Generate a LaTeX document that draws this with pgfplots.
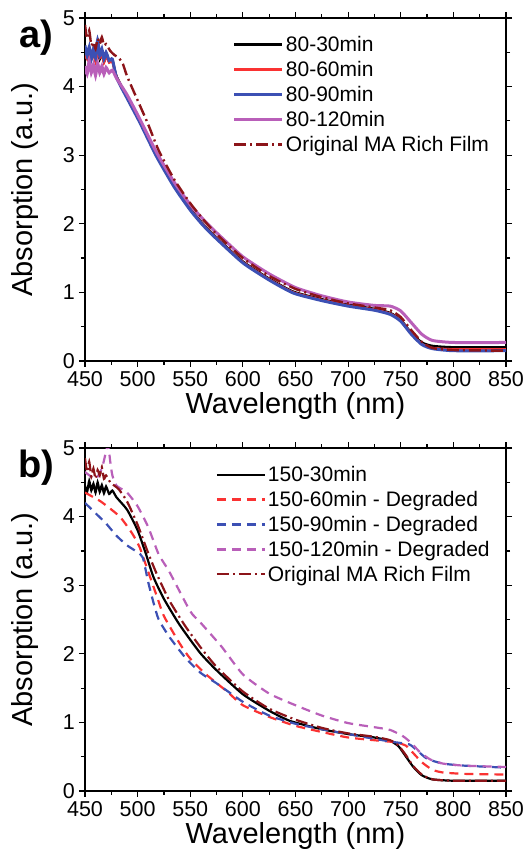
\documentclass[border=0pt]{standalone}
\usepackage{pgfplots}
\pgfplotsset{compat=1.18}
\usepackage{fontspec}
\setmainfont{Liberation Sans}
\definecolor{cred}{RGB}{250,50,50}
\definecolor{cblue}{RGB}{60,80,180}
\definecolor{cviol}{RGB}{185,95,185}
\definecolor{cdred}{RGB}{140,20,25}
\pgfplotsset{
  myax/.style={
    scale only axis, width=421pt, height=343pt,
    xmin=450, xmax=850, ymin=0, ymax=5,
    xtick={450,500,...,850}, ytick={0,1,...,5},
    minor x tick num=1, minor y tick num=1,
    tick align=outside, axis line style={line width=1.6pt},
    major tick length=6pt, minor tick length=4pt,
    every tick/.style={black, line width=1.2pt},
    /pgf/number format/assume math mode=true,
    ticklabel style={font=\fontsize{21.5}{23}\selectfont, inner sep=0pt},
    xticklabel style={yshift=-4.5pt},
    yticklabel style={xshift=-4pt},
    label style={font=\fontsize{29}{32}\selectfont},
    xlabel={Wavelength (nm)}, ylabel={Absorption (a.u.)},
    xlabel style={at={(axis description cs:0.5,-0.132)}, anchor=center, inner sep=0pt},
    ylabel style={at={(axis description cs:-0.143,0.5)}, anchor=center},
    legend style={draw=none, fill=none, font=\fontsize{21}{23}\selectfont,
      row sep=4.2pt, inner sep=0pt},
    legend cell align=left,
    legend image code/.code={\draw[##1] (0pt,0pt) -- (48pt,0pt);},
    every axis plot/.append style={smooth, tension=0.35},
    clip=true,
  }
}
\begin{document}
\begin{tikzpicture}
\useasboundingbox (0,0) rectangle (529pt,860pt);
% ---------------- panel a
\begin{axis}[myax, at={(85pt,499pt)}, anchor=south west,
  legend style={at={(axis description cs:0.351,0.953)}, anchor=north west}]
\addplot[black, line width=2.4pt] coordinates {
(450,4.5)(452,4.42)(454,4.56)(456,4.4)(458,4.52)(460,4.38)(462,4.54)(464,4.4)(466,4.5)(468,4.36)(470,4.46)(473,4.36)(476,4.38)
(480,4.15)(490,3.85)(502,3.5)(518,3.0)(535,2.55)(550,2.22)(562,2.0)(575,1.8)(600,1.45)(625,1.2)(648,1.01)(675,0.9)(700,0.82)(725,0.76)(740,0.7)(750,0.6)(760,0.41)(770,0.27)(780,0.22)(800,0.2)(850,0.2)};
\addlegendentry{80-30min}
\addplot[cred, line width=2.4pt] coordinates {
(450,4.48)(452,4.4)(454,4.55)(456,4.42)(458,4.5)(460,4.36)(462,4.52)(464,4.42)(466,4.48)(468,4.35)(470,4.45)(473,4.35)(476,4.36)
(480,4.14)(490,3.84)(502,3.49)(518,2.99)(535,2.54)(550,2.21)(562,1.99)(575,1.79)(600,1.44)(625,1.19)(648,1.0)(675,0.89)(700,0.81)(725,0.75)(740,0.69)(750,0.59)(760,0.4)(770,0.25)(780,0.19)(800,0.17)(850,0.17)};
\addlegendentry{80-60min}
\addplot[cblue, line width=3pt] coordinates {
(450,4.6)(452,4.45)(454,4.58)(456,4.4)(458,4.55)(460,4.42)(462,4.68)(464,4.45)(466,4.55)(468,4.4)(470,4.5)(473,4.38)(476,4.4)
(480,4.13)(490,3.83)(502,3.48)(518,2.98)(535,2.53)(550,2.2)(562,1.98)(575,1.78)(600,1.43)(625,1.18)(648,0.99)(675,0.88)(700,0.8)(725,0.74)(740,0.68)(750,0.58)(760,0.39)(770,0.24)(780,0.18)(800,0.15)(850,0.15)};
\addlegendentry{80-90min}
\addplot[cviol, line width=3pt] coordinates {
(450,4.3)(452,4.18)(454,4.38)(456,4.2)(458,4.32)(460,4.16)(462,4.34)(464,4.2)(466,4.3)(468,4.18)(470,4.28)(473,4.2)(476,4.24)
(480,4.12)(490,3.88)(502,3.53)(518,3.04)(535,2.6)(550,2.28)(562,2.07)(575,1.87)(600,1.52)(625,1.27)(650,1.07)(675,0.95)(700,0.86)(725,0.81)(740,0.8)(750,0.73)(760,0.56)(770,0.39)(780,0.3)(800,0.27)(850,0.27)};
\addlegendentry{80-120min}
\addplot[cdred, line width=2.4pt, dash pattern=on 12pt off 4pt on 2pt off 4pt] coordinates {
(450,4.9)(452,4.7)(454,4.82)(456,4.6)(458,4.65)(460,4.55)(462,4.7)(464,4.62)(466,4.72)(468,4.6)(470,4.62)(474,4.52)(478,4.46)
(482,4.42)(486,4.33)(490,4.15)(500,3.8)(510,3.45)(520,3.07)(535,2.64)(550,2.3)(562,2.07)(575,1.85)(600,1.5)(625,1.24)(650,1.05)(675,0.93)(700,0.84)(725,0.78)(740,0.74)(750,0.64)(760,0.45)(770,0.28)(780,0.19)(800,0.16)(850,0.15)};
\addlegendentry{Original MA Rich Film}
\end{axis}
\node[font=\bfseries\fontsize{38}{40}\selectfont, anchor=center] at (36pt,822pt) {a)};
% ---------------- panel b
\begin{axis}[myax, at={(85pt,69pt)}, anchor=south west,
  legend style={at={(axis description cs:0.31,0.953)}, anchor=north west}]
\addplot[black, line width=2.2pt] coordinates {
(450,4.45)(452,4.36)(454,4.52)(456,4.38)(458,4.48)(460,4.35)(462,4.5)(464,4.36)(466,4.46)(468,4.34)(470,4.44)(473,4.33)(476,4.38)
(480,4.28)(490,4.1)(500,3.8)(508,3.45)(515,3.12)(525,2.8)(540,2.42)(559,2.02)(575,1.76)(600,1.41)(625,1.17)(645,1.02)(675,0.9)(700,0.83)(725,0.78)(740,0.73)(748,0.65)(755,0.5)(762,0.35)(770,0.23)(780,0.17)(800,0.15)(850,0.15)};
\addlegendentry{150-30min}
\addplot[cred, line width=2.2pt, dash pattern=on 9pt off 6pt] coordinates {
(450,4.35)(465,4.22)(483,4.0)(495,3.75)(502,3.55)(510,3.2)(518,2.85)(525,2.55)(540,2.15)(550,1.93)(565,1.7)(585,1.45)(600,1.25)(625,1.08)(650,0.95)(675,0.86)(700,0.78)(725,0.74)(745,0.71)(755,0.66)(762,0.55)(770,0.42)(780,0.31)(790,0.27)(810,0.25)(850,0.24)};
\addlegendentry{150-60min - Degraded}
\addplot[cblue, line width=2.2pt, dash pattern=on 9pt off 6pt] coordinates {
(450,4.2)(460,4.05)(470,3.9)(480,3.72)(490,3.58)(500,3.48)(505,3.4)(510,3.05)(515,2.75)(520,2.5)(530,2.25)(545,1.95)(560,1.72)(575,1.57)(600,1.3)(625,1.1)(650,0.98)(675,0.9)(700,0.83)(725,0.76)(745,0.71)(758,0.68)(765,0.6)(775,0.47)(790,0.4)(810,0.37)(850,0.34)};
\addlegendentry{150-90min - Degraded}
\addplot[cviol, line width=2.2pt, dash pattern=on 9pt off 6pt] coordinates {
(450,4.65)(460,4.55)(466,4.7)(470,4.95)(472,5.05)(474,4.8)(476,4.6)(480,4.45)(490,4.35)(500,4.15)(510,3.85)(520,3.45)(530,3.2)(550,2.62)(560,2.45)(580,2.1)(600,1.7)(625,1.42)(650,1.25)(675,1.1)(700,0.99)(725,0.93)(740,0.89)(752,0.8)(760,0.7)(768,0.57)(778,0.46)(790,0.4)(810,0.37)(850,0.35)};
\addlegendentry{150-120min - Degraded}
\addplot[cdred, line width=2.2pt, dash pattern=on 12pt off 4pt on 2pt off 4pt] coordinates {
(450,4.85)(452,4.65)(454,4.8)(456,4.58)(458,4.7)(460,4.55)(462,4.68)(464,4.6)(466,4.72)(468,4.55)(470,4.6)(474,4.5)(478,4.45)
(482,4.4)(490,4.22)(500,3.88)(510,3.47)(518,3.17)(530,2.78)(545,2.41)(560,2.09)(575,1.81)(600,1.45)(625,1.2)(650,1.04)(675,0.92)(700,0.84)(725,0.79)(740,0.74)(748,0.66)(755,0.52)(762,0.36)(770,0.24)(780,0.17)(800,0.15)(850,0.15)};
\addlegendentry{Original MA Rich Film}
\end{axis}
\node[font=\bfseries\fontsize{38}{40}\selectfont, anchor=center] at (36pt,392pt) {b)};
\end{tikzpicture}
\end{document}
